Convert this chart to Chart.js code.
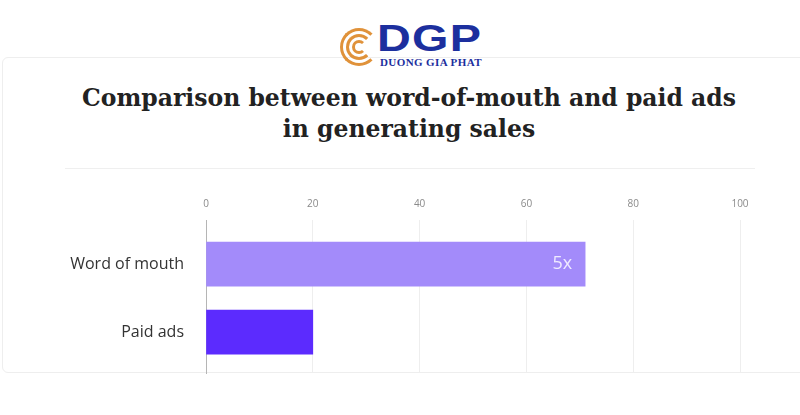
<!DOCTYPE html>
<html lang="en">
<head>
    <meta charset="UTF-8">
    <title>Word of mouth vs paid ads</title>
    <script src="https://cdn.jsdelivr.net/npm/chart.js"></script>
    <style>
        html, body { margin: 0; padding: 0; background: #fff; }
        #wrap { position: relative; width: 800px; height: 415px; overflow: hidden; }
        #panel { position: absolute; left: 2px; top: 57px; width: 820px; height: 316px;
                 border: 1px solid #eeeeee; border-radius: 6px; box-sizing: border-box; }
        #divider { position: absolute; left: 65px; top: 168px; width: 690px; height: 1px; background: #efefef; }
        #title { position: absolute; left: 0; top: 83px; width: 818px; text-align: center;
                 font: bold 23.5px "DejaVu Serif", serif; line-height: 31px; color: #222; }
        #logo { position: absolute; left: 338px; top: 24px; width: 160px; height: 44px; }
        .ring { position: absolute; border-radius: 50%; border: 3px solid #e0923a;
                border-right-color: transparent; }
        #dgp { position: absolute; left: 39px; top: -6px; font: bold 36px "Liberation Sans", Arial, sans-serif;
               color: #1c2f9e; letter-spacing: 1px; transform: scaleX(1.3); transform-origin: left top; }
        #dgpSub { position: absolute; left: 42px; top: 32px; font: bold 11px "Liberation Serif", serif;
                  color: #1c2f9e; letter-spacing: 0.4px; white-space: nowrap; }
        canvas { position: absolute; left: 0; top: 0; }
    </style>
</head>
<body>
<div id="wrap">
    <div id="panel"></div>
    <div id="divider"></div>
    <div id="logo">
        <div class="ring" style="left:2px;top:4px;width:32px;height:32px;"></div>
        <div class="ring" style="left:8px;top:10px;width:20px;height:20px;"></div>
        <div class="ring" style="left:14px;top:16px;width:8px;height:8px;"></div>
        <div id="dgp">DGP</div>
        <div id="dgpSub">DUONG GIA PHAT</div>
    </div>
    <div id="title">Comparison between word-of-mouth and paid ads<br>in generating sales</div>
    <canvas id="chart" width="800" height="415"></canvas>
</div>

<script>
    const categories = ['Word of mouth', 'Paid ads'];
    const shares = [71, 20];
    const barLabels = ['5x', ''];
    const barColors = ['#a38bfa', '#5c2bfe'];
    const xTicks = [0, 20, 40, 60, 80, 100];

    // labels drawn inside the end of each bar
    const insideLabels = {
        id: 'insideLabels',
        afterDatasetsDraw(chart) {
            const ctx = chart.ctx;
            const meta = chart.getDatasetMeta(0);
            ctx.save();
            ctx.font = '18px "Open Sans", sans-serif';
            ctx.fillStyle = '#efeaff';
            ctx.textAlign = 'right';
            ctx.textBaseline = 'middle';
            meta.data.forEach((bar, i) => {
                if (barLabels[i]) ctx.fillText(barLabels[i], bar.x - 13, bar.y);
            });
            ctx.restore();
        }
    };

    new Chart(document.getElementById('chart'), {
        type: 'bar',
        data: {
            datasets: [{
                data: shares.map((v, i) => ({ x: v, y: i })),
                backgroundColor: barColors,
                borderWidth: 0,
                barThickness: 44
            }]
        },
        options: {
            indexAxis: 'y',
            responsive: false,
            animation: false,
            layout: { padding: { top: 188, right: 60, bottom: 42, left: 0 } },
            plugins: {
                legend: { display: false },
                tooltip: { enabled: false }
            },
            scales: {
                x: {
                    position: 'top',
                    min: 0,
                    max: 100,
                    afterBuildTicks: (s) => { s.ticks = xTicks.map(v => ({ value: v })); },
                    grid: { color: '#eeeeee', drawTicks: false },
                    border: { display: false },
                    ticks: { color: '#8a8a8a', font: { family: '"Open Sans", sans-serif', size: 10 }, padding: 10 }
                },
                y: {
                    type: 'linear',
                    reverse: true,
                    offset: false,
                    min: -0.65,
                    max: 1.6,
                    afterBuildTicks: (s) => { s.ticks = categories.map((c, i) => ({ value: i })); },
                    afterFit: (s) => { s.width = 206; },
                    grid: { display: false },
                    border: { color: '#b5b5b5', width: 1 },
                    ticks: {
                        callback: (v) => categories[v],
                        color: '#333333',
                        font: { family: '"Open Sans", sans-serif', size: 16 },
                        padding: 14
                    }
                }
            }
        },
        plugins: [insideLabels]
    });
</script>
</body>
</html>
